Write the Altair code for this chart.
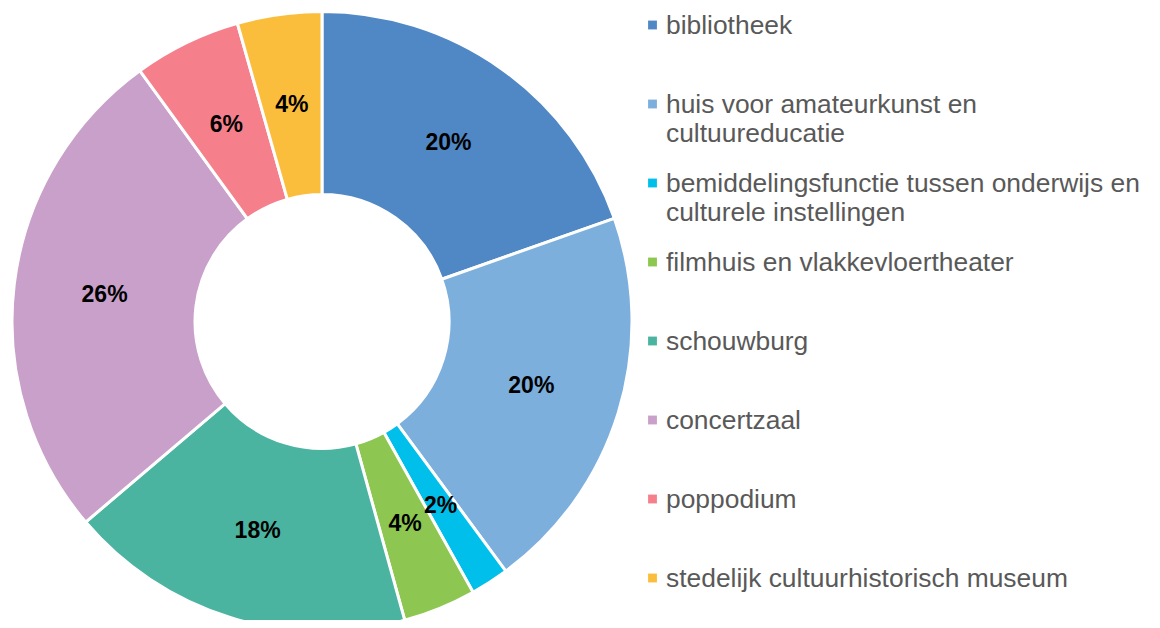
import altair as alt
import pandas as pd

categories = [
    "bibliotheek",
    "huis voor amateurkunst en\ncultuureducatie",
    "bemiddelingsfunctie tussen onderwijs en\nculturele instellingen",
    "filmhuis en vlakkevloertheater",
    "schouwburg",
    "concertzaal",
    "poppodium",
    "stedelijk cultuurhistorisch museum",
]
shares = [19.6, 20.3, 2.0, 3.8, 18.1, 26.2, 5.6, 4.4]
colors = ["#5087C5", "#7DAFDD", "#00C0EB", "#8DC650",
          "#4BB4A0", "#C8A0C9", "#F67F8C", "#FBBE3C"]

df = pd.DataFrame({
    "cat": categories,
    "share": shares,
    "order": list(range(len(categories))),
})
df["frac"] = df["share"] / 100.0

color_scale = alt.Scale(domain=categories, range=colors)

CX, CY = 314, 313.5

base = alt.Chart(df).encode(
    theta=alt.Theta("share:Q", stack=True),
    order=alt.Order("order:Q"),
)

arcs = base.mark_arc(innerRadius=127, outerRadius=310, stroke="white",
                     strokeWidth=3).encode(
    color=alt.Color("cat:N", scale=color_scale, legend=None),
    x=alt.value(CX), y=alt.value(CY),
)

labels = base.mark_text(radius=219, font="Liberation Sans", fontSize=23,
                        fontWeight="bold", color="black").encode(
    text=alt.Text("frac:Q", format=".0%"),
    x=alt.value(CX), y=alt.value(CY),
)

ypos = alt.Y("order:Q", scale=alt.Scale(domain=[0, 7], range=[17, 570]), axis=None)

leg_sq = alt.Chart(df).mark_square(size=78, opacity=1).encode(
    x=alt.value(644.5),
    y=ypos,
    color=alt.Color("cat:N", scale=color_scale, legend=None),
)

leg_txt = alt.Chart(df).mark_text(
    align="left", baseline="alphabetic", dy=9, lineBreak="\n", lineHeight=29,
    font="Liberation Sans", fontSize=26.4, color="#595959",
).encode(
    x=alt.value(658),
    y=ypos,
    text="cat:N",
)

chart = alt.layer(arcs, labels, leg_sq, leg_txt).properties(
    width=1144, height=612,
    autosize=alt.AutoSizeParams(type="none"),
    padding=0,
).configure_view(stroke=None)

chart.save("out.html", embed_options={"renderer": "svg", "actions": False})
